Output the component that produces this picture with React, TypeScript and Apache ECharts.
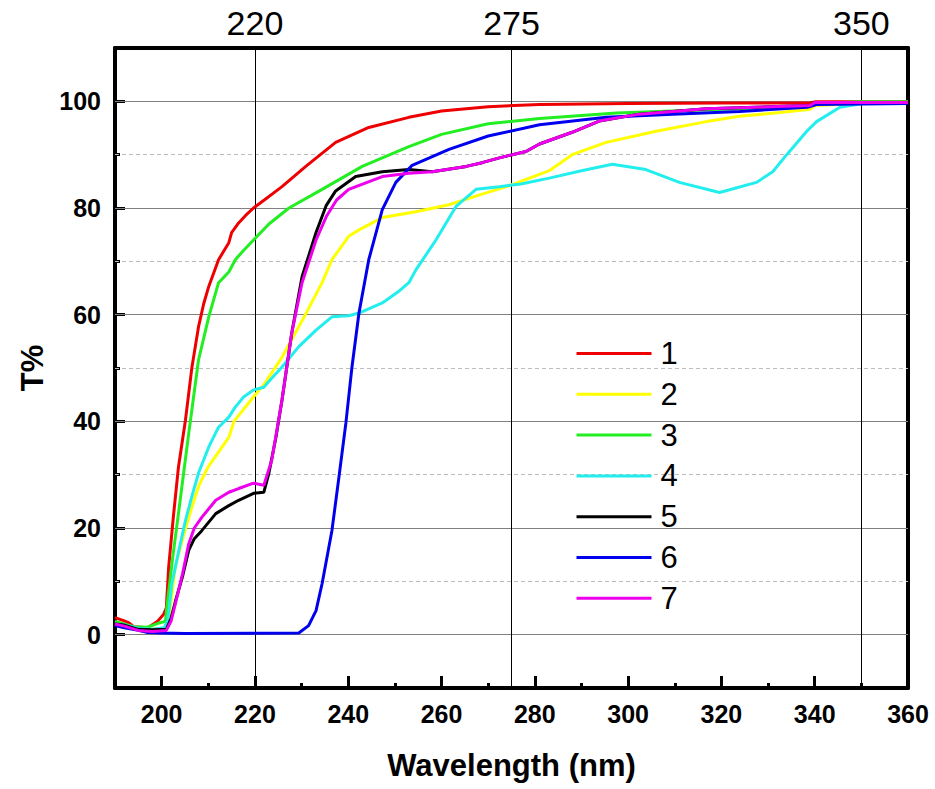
import React, { useEffect, useRef } from "react";
import * as echarts from "echarts";

const seriesNames = ["1", "2", "3", "4", "5", "6", "7"];
const seriesColors = ["#ee0000", "#ffff00", "#22ee22", "#22eeee", "#000000", "#0000ee", "#ee00ee"];

const s1: number[][] = [[190,3.2],[192,2.6],[193,2.2],[194,1.5],[197,1.3],[199,2.4],[200.4,3.8],[201,5],[201.5,12.6],[202.5,22],[203.6,31.4],[205.1,40.2],[206.5,50.2],[207.9,57.7],[209,62],[210.1,65.3],[212.2,70.3],[214.4,73.5],[215,75.4],[216.5,77.2],[218,78.6],[219.7,80],[222,81.5],[225.8,84],[230.9,87.8],[237.3,92.3],[244.4,95.1],[253,97],[260,98.2],[270,99],[281,99.4],[300,99.6],[320,99.7],[339,99.7],[340,99.9],[360,99.9]];
const s2: number[][] = [[190,2],[192,1.8],[195,1.2],[198,1],[200.5,1.2],[201.5,2.5],[202.9,12.6],[204.5,18],[206.5,24],[208,28],[210,31.5],[212,34],[214.4,37],[215.5,40],[219.7,44.6],[222,47],[225.8,52],[230.5,59.5],[234.4,66],[236.5,70.3],[240.1,74.7],[242.3,75.9],[247.3,78.2],[254.5,79.3],[261.6,80.6],[268.7,82.6],[275.2,84.4],[283.1,87],[288,90],[295.3,92.3],[306,94.4],[316.8,96.2],[323.9,97.2],[332.5,97.9],[339,98.5],[340,99.2],[350,99.6],[360,99.8]];
const s3: number[][] = [[190,2.5],[192,2],[194,1.5],[197,1.4],[199.5,2.2],[200.8,2.5],[201.1,5],[202.3,14],[203.6,22.7],[205.8,37.7],[207.9,51.5],[210.1,59.6],[212.2,66],[214.4,68],[215.8,70.3],[217.5,72],[219.7,74],[223,77],[227.3,80],[234.4,83.5],[243,87.8],[253,91.5],[260,93.8],[270,95.8],[281,96.8],[297.5,97.8],[320,98.5],[339,99],[340,99.6],[350,99.9],[360,99.9]];
const s4: number[][] = [[190,2],[192,1.8],[195,1.2],[198,1],[200.5,1.3],[201.3,2.5],[202.2,9.6],[203.5,15],[205.1,21.4],[206.5,26],[207.9,30.3],[210.1,35.2],[212.2,38.9],[214.4,40.8],[215.8,42.7],[217.5,44.5],[219.7,45.9],[221.9,46.4],[223.5,48],[225.8,50.2],[229.4,54],[233.1,57.1],[236.5,59.6],[240.1,59.8],[242.3,60.3],[247.3,62.2],[251,64.5],[253,66],[254.5,68.4],[258.8,74],[263.1,80.3],[267.4,83.5],[272.4,84],[277,84.5],[283.1,85.6],[290,87],[296.6,88.2],[303.8,87.2],[311,84.8],[319.6,82.9],[327.5,84.8],[331,86.8],[334,90],[338.3,94.4],[340.4,96.2],[345.4,98.9],[350.3,99.6],[360,99.8]];
const s5: number[][] = [[190,2],[192,1.8],[195,1],[198,0.9],[201,1],[202,3],[203,6.4],[204.5,11],[205.8,15.8],[207,18],[208.6,19.5],[211.6,22.7],[214.4,24.2],[216.5,25.2],[219.7,26.5],[221.9,26.7],[223,30.3],[224.5,37],[225.8,44],[227.9,56.6],[230.1,67.1],[233.1,75.4],[235.3,80.5],[237.3,83.2],[241.6,85.9],[247.3,86.8],[253,87.2],[258,86.8],[265.3,87.8],[268.7,88.5],[272.4,89.4],[278.1,90.6],[281,92],[288,94.2],[293.8,96.3],[302.4,97.6],[316.8,98.6],[339,99.2],[340,99.8],[360,99.8]];
const s6: number[][] = [[190,1.7],[192,1.3],[195,0.8],[197,0.4],[200,0.3],[205,0.2],[229.4,0.3],[231.5,1.7],[233.1,4.5],[234.4,9.6],[236.5,19.5],[238,29.5],[239.5,39.7],[240.8,50.2],[242.3,60.3],[244.4,70.3],[247.3,79.7],[250.2,84.8],[253.7,88],[261.6,91],[270,93.5],[281,95.6],[295.3,97],[309.6,97.6],[323.9,98.1],[338.3,98.9],[340.4,99.4],[360,99.6]];
const s7: number[][] = [[190,2],[192,1.6],[195,0.8],[198,0.6],[201,0.8],[202,2.5],[203,6],[204.5,11.5],[205.8,17],[207,20],[208.6,22],[211.6,25.2],[214.4,26.7],[216.5,27.4],[219.7,28.4],[221.9,28],[223.6,32.7],[225.8,44],[227.9,56.6],[230.1,66],[233.1,74],[235.3,78.4],[237.5,81.5],[240.1,83.5],[247.3,85.9],[253,86.5],[258,86.8],[265.3,87.8],[268.7,88.5],[272.4,89.4],[278.1,90.6],[281,92],[288,94.2],[293.8,96.3],[302.4,97.6],[316.8,98.6],[339,99.2],[340,99.8],[360,99.8]];
const seriesData = [s1, s2, s3, s4, s5, s6, s7];

const xMajor = [200, 220, 240, 260, 280, 300, 320, 340, 360];
const xMinor = [210, 230, 250, 270, 290, 310, 330, 350];
const topTicks = [220, 275, 350];
const yMajor = [0, 20, 40, 60, 80, 100];
const yMinor = [10, 30, 50, 70, 90];

const FONT = "Arial, 'Liberation Sans', sans-serif";

export default function App() {
  const ref = useRef<HTMLDivElement>(null);
  useEffect(() => {
    if (!ref.current) return;
    const chart = echarts.init(ref.current, null, { renderer: "svg" });
    const baseX = { type: "value", min: 190, max: 360, splitLine: { show: false } };
    const baseY = { type: "value", min: -10, max: 110, splitLine: { show: false } };
    const option: any = {
      animation: false,
      backgroundColor: "#ffffff",
      grid: { left: 115, right: 27, top: 48, bottom: 101, containLabel: false },
      legend: {
        data: seriesNames,
        orient: "vertical",
        left: 575,
        top: 338,
        padding: 0,
        itemWidth: 75,
        itemHeight: 14,
        itemGap: 9.8,
        itemStyle: { opacity: 0 },
        lineStyle: { width: 3 },
        textStyle: { fontFamily: FONT, fontSize: 31, color: "#000", lineHeight: 30, padding: [0, 0, 0, 4] },
        selectedMode: false,
      },
      xAxis: [
        {
          ...baseX,
          position: "bottom",
          axisLine: { onZero: false, lineStyle: { color: "#000", width: 4 } },
          axisTick: { inside: true, length: 12, customValues: xMajor, lineStyle: { color: "#000", width: 3 } },
          axisLabel: { customValues: xMajor, margin: 13, fontFamily: FONT, fontWeight: "bold", fontSize: 25, color: "#000" },
          name: "Wavelength (nm)",
          nameLocation: "middle",
          nameGap: 62,
          nameTextStyle: { fontFamily: FONT, fontWeight: "bold", fontSize: 31, color: "#000" },
        },
        {
          ...baseX,
          position: "bottom",
          axisLine: { show: false, onZero: false },
          axisTick: { inside: true, length: 5, customValues: xMinor, lineStyle: { color: "#000", width: 3 } },
          axisLabel: { show: false },
        },
        {
          ...baseX,
          position: "top",
          axisLine: { onZero: false, lineStyle: { color: "#000", width: 4 } },
          axisTick: { show: false },
          axisLabel: { customValues: topTicks, margin: 8, fontFamily: FONT, fontSize: 34, color: "#000" },
        },
      ],
      yAxis: [
        {
          ...baseY,
          position: "left",
          axisLine: { onZero: false, lineStyle: { color: "#000", width: 4 } },
          axisTick: { inside: true, length: 10, customValues: yMajor, lineStyle: { color: "#000", width: 3 } },
          axisLabel: { customValues: yMajor, margin: 14, fontFamily: FONT, fontWeight: "bold", fontSize: 25, color: "#000" },
          name: "T%",
          nameLocation: "middle",
          nameGap: 66,
          nameRotate: 90,
          nameTextStyle: { fontFamily: FONT, fontWeight: "bold", fontSize: 31, color: "#000" },
        },
        {
          ...baseY,
          position: "left",
          axisLine: { show: false, onZero: false },
          axisTick: { inside: true, length: 5, customValues: yMinor, lineStyle: { color: "#000", width: 3 } },
          axisLabel: { show: false },
        },
        {
          ...baseY,
          position: "right",
          axisLine: { onZero: false, lineStyle: { color: "#000", width: 4 } },
          axisTick: { show: false },
          axisLabel: { show: false },
        },
      ],
      series: [
        {
          name: "gridlines",
          type: "line",
          xAxisIndex: 0,
          yAxisIndex: 0,
          data: [],
          z: 1,
          silent: true,
          markLine: {
            silent: true,
            symbol: ["none", "none"],
            label: { show: false },
            animation: false,
            z: 1,
            data: [
              ...yMinor.map((v) => ({ yAxis: v, lineStyle: { color: "#bdbdbd", width: 1, type: [4, 3] } })),
              ...yMajor.map((v) => ({ yAxis: v, lineStyle: { color: "#808080", width: 1, type: "solid" } })),
              ...topTicks.map((v) => ({ xAxis: v, lineStyle: { color: "#000", width: 1, type: "solid" } })),
            ],
          },
        },
        ...seriesNames.map((n, i) => ({
          name: n,
          type: "line",
          xAxisIndex: 0,
          yAxisIndex: 0,
          data: seriesData[i],
          symbol: "none",
          showSymbol: false,
          z: 5,
          lineStyle: { color: seriesColors[i], width: 3 },
          itemStyle: { color: seriesColors[i] },
          emphasis: { disabled: true },
        })),
      ],
    };
    chart.setOption(option);
    return () => chart.dispose();
  }, []);
  return <div ref={ref} style={{ width: 935, height: 789, position: "absolute", left: 0, top: 0 }} />;
}
